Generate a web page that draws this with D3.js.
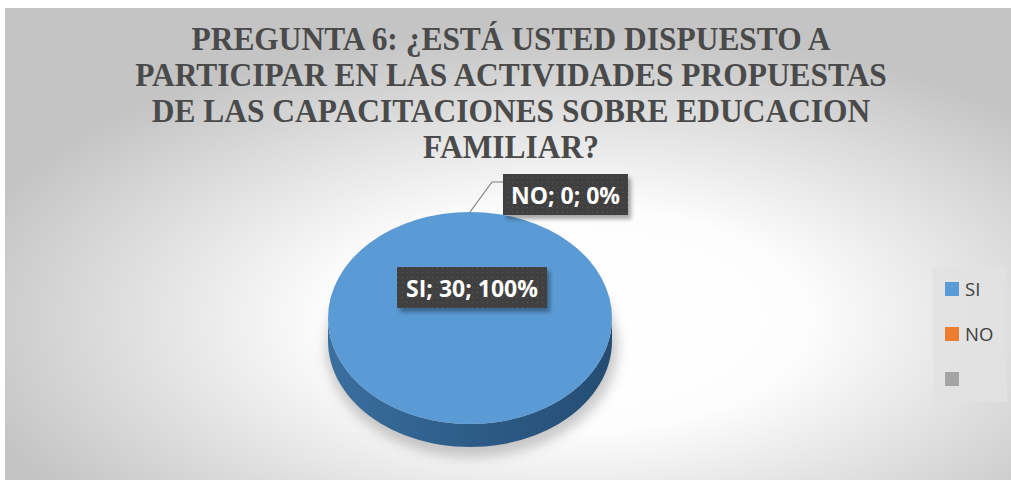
<!DOCTYPE html>
<html>
<head>
<meta charset="utf-8">
<script src="https://cdn.jsdelivr.net/npm/d3@7"></script>
<style>
  body { margin: 0; background: #fff; }
</style>
</head>
<body>
<div id="chart"></div>
<script>
// data
var categories = ["SI", "NO", ""];
var values = [30, 0, 0];
var colors = ["#5b9bd5", "#ed7d31", "#a5a5a5"];
var titleLines = [
  "PREGUNTA 6: ¿ESTÁ USTED DISPUESTO A",
  "PARTICIPAR EN LAS ACTIVIDADES PROPUESTAS",
  "DE LAS CAPACITACIONES SOBRE EDUCACION",
  "FAMILIAR?"
];

var width = 1011, height = 485;
var total = d3.sum(values);

var svg = d3.select("#chart")
  .append("svg")
    .attr("width", width)
    .attr("height", height);

var defs = svg.append("defs");

var bg = defs.append("radialGradient")
    .attr("id", "bg")
    .attr("cx", "56%").attr("cy", "66%").attr("r", "62%");
bg.append("stop").attr("offset", "0%").attr("stop-color", "#ffffff");
bg.append("stop").attr("offset", "38%").attr("stop-color", "#fdfdfd");
bg.append("stop").attr("offset", "100%").attr("stop-color", "#c4c4c4");

var side = defs.append("linearGradient")
    .attr("id", "side")
    .attr("x1", "0%").attr("x2", "100%");
side.append("stop").attr("offset", "0%").attr("stop-color", "#3b6f9e");
side.append("stop").attr("offset", "50%").attr("stop-color", "#2d5c88");
side.append("stop").attr("offset", "100%").attr("stop-color", "#254d73");

var dots = defs.append("pattern")
    .attr("id", "dots")
    .attr("width", 5).attr("height", 5)
    .attr("patternUnits", "userSpaceOnUse");
dots.append("rect").attr("width", 5).attr("height", 5).attr("fill", "#3f3f3f");
dots.append("rect").attr("x", 2).attr("y", 2).attr("width", 1).attr("height", 1).attr("fill", "#5a5a5a");

var shadow = defs.append("filter").attr("id", "shadow")
    .attr("x", "-20%").attr("y", "-20%").attr("width", "150%").attr("height", "160%");
shadow.append("feDropShadow")
    .attr("dx", 3).attr("dy", 4).attr("stdDeviation", 2)
    .attr("flood-color", "#000").attr("flood-opacity", 0.35);

var blur = defs.append("filter").attr("id", "blur")
    .attr("x", "-30%").attr("y", "-30%").attr("width", "160%").attr("height", "160%");
blur.append("feGaussianBlur").attr("stdDeviation", 6);

// chart area
svg.append("rect")
    .attr("x", 5).attr("y", 8)
    .attr("width", width - 5).attr("height", height - 13)
    .attr("fill", "url(#bg)");

// title (narrow, tall serif like the source)
svg.append("g")
  .selectAll("text")
  .data(titleLines)
  .join("text")
    .attr("transform", function(d, i) { return "translate(511," + (50 + i * 36) + ") scale(0.925,1)"; })
    .attr("text-anchor", "middle")
    .attr("font-family", "'Liberation Serif', 'Times New Roman', serif")
    .attr("font-weight", "bold")
    .attr("font-size", "34px")
    .attr("fill", "#4a4a4a")
    .text(function(d) { return d; });

// pie (3D look: squashed top face + extruded front wall)
var cx = 470, cy = 318, rx = 142, ry = 106, depth = 23;

var pie = d3.pie().sort(null).value(function(d) { return d; });
var arcs = pie(values);
var arc = d3.arc().innerRadius(0).outerRadius(rx);

var g = svg.append("g");

g.append("ellipse")
    .attr("cx", cx + 2).attr("cy", cy + depth + 6)
    .attr("rx", rx + 4).attr("ry", ry + 4)
    .attr("fill", "#8a8a8a").attr("opacity", 0.45)
    .attr("filter", "url(#blur)");

// front wall: visible part of each slice in the lower half of the ellipse
function wallPath(d) {
  var a0 = Math.max(d.startAngle, Math.PI / 2);
  var a1 = Math.min(d.endAngle, Math.PI * 1.5);
  if (a1 <= a0) return null;
  var steps = d3.range(0, 61).map(function(i) { return a0 + (a1 - a0) * i / 60; });
  var top = steps.map(function(a) { return [cx + rx * Math.sin(a), cy - ry * Math.cos(a)]; });
  var bottom = steps.slice().reverse().map(function(a) { return [cx + rx * Math.sin(a), cy - ry * Math.cos(a) + depth]; });
  return d3.line()(top.concat(bottom)) + "Z";
}

g.selectAll("path.wall")
  .data(arcs.filter(function(d) { return d.value > 0; }))
  .join("path")
    .attr("class", "wall")
    .attr("d", wallPath)
    .attr("fill", "url(#side)");

g.selectAll("path.top")
  .data(arcs.filter(function(d) { return d.value > 0; }))
  .join("path")
    .attr("class", "top")
    .attr("transform", "translate(" + cx + "," + cy + ") scale(1," + (ry / rx) + ")")
    .attr("d", arc)
    .attr("fill", function(d) { return colors[d.index]; });

// data labels
function labelText(i) {
  return categories[i] + "; " + values[i] + "; " + Math.round(values[i] / total * 100) + "%";
}

function addLabel(text, x, y, w, h) {
  var lg = svg.append("g");
  lg.append("rect")
      .attr("x", x).attr("y", y).attr("width", w).attr("height", h)
      .attr("fill", "url(#dots)")
      .attr("filter", "url(#shadow)");
  lg.append("text")
      .attr("x", x + w / 2).attr("y", y + h / 2 + 9)
      .attr("text-anchor", "middle")
      .attr("font-family", "'Open Sans', 'Noto Sans', sans-serif")
      .attr("font-weight", "bold")
      .attr("font-size", "23px")
      .attr("fill", "#ffffff")
      .text(text);
}

// SI label (placed above centre, as in the source)
addLabel(labelText(0), cx - 73, cy - 51, 150, 41);

// NO label with leader line from the top of the pie
var noStart = [cx, cy - ry];
svg.append("path")
    .attr("d", d3.line()([noStart, [cx + 22, 182], [503, 182]]))
    .attr("fill", "none")
    .attr("stroke", "#7f7f7f")
    .attr("stroke-width", 1.2);
addLabel(labelText(1), 503, 174, 125, 41);

// legend
var legend = svg.append("g");
legend.append("rect")
    .attr("x", 933).attr("y", 267)
    .attr("width", 74).attr("height", 135)
    .attr("fill", "#e2e2e2").attr("opacity", 0.85);

var item = legend.selectAll("g.item")
  .data(categories)
  .join("g")
    .attr("class", "item")
    .attr("transform", function(d, i) { return "translate(945," + (282 + i * 45) + ")"; });

item.append("rect")
    .attr("width", 14).attr("height", 14)
    .attr("fill", function(d, i) { return colors[i]; });

item.append("text")
    .attr("x", 20).attr("y", 14)
    .attr("font-family", "'Open Sans', 'Noto Sans', sans-serif")
    .attr("font-size", "18.5px")
    .attr("fill", "#404040")
    .text(function(d) { return d; });
</script>
</body>
</html>
